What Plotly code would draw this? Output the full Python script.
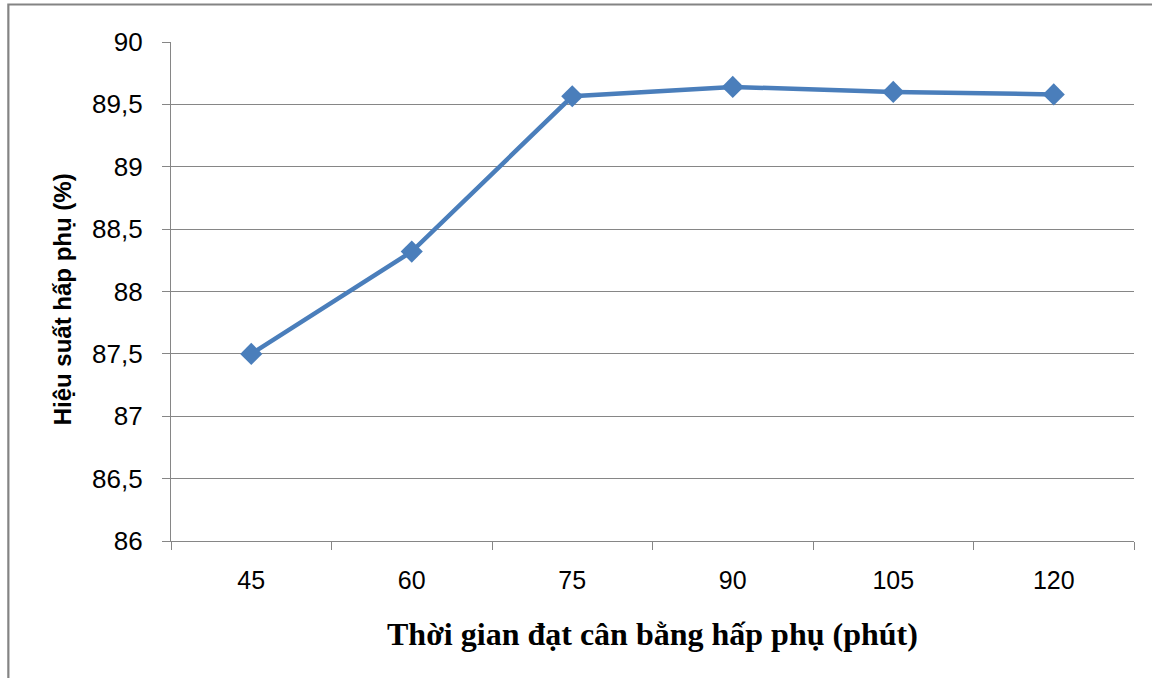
import plotly.graph_objects as go

# Thời gian (phút) và hiệu suất hấp phụ (%)
times = ["45", "60", "75", "90", "105", "120"]
efficiency = [87.5, 88.32, 89.565, 89.64, 89.6, 89.58]

y_ticks = [86, 86.5, 87, 87.5, 88, 88.5, 89, 89.5, 90]
y_tick_text = ["86", "86,5", "87", "87,5", "88", "88,5", "89", "89,5", "90"]

W, H = 1152, 678
L, R, T, B = 170.7, 18, 42, 137

fig = go.Figure()
fig.add_trace(go.Scatter(
    x=times, y=efficiency, mode="lines+markers",
    line=dict(color="#4A7EBB", width=4.5),
    marker=dict(symbol="diamond", size=17, color="#4A7EBB"),
    showlegend=False,
))

pw = W - L - R
ph = H - T - B

def px_x(px):
    return (px - L) / pw

def px_y(py):
    return (H - B - py) / ph

fig.update_layout(
    width=W, height=H,
    margin=dict(l=L, r=R, t=T, b=B, pad=0),
    paper_bgcolor="white", plot_bgcolor="white",
    font=dict(family="Liberation Sans, Arial", size=25, color="black"),
    xaxis=dict(
        type="category", tickson="boundaries", ticks="outside", ticklen=8,
        tickcolor="#868686", tickwidth=1.3, showline=True, linecolor="#868686",
        linewidth=1.3, showgrid=False, range=[-0.5, 5.5],
        tickfont=dict(size=25), ticklabelstandoff=17, fixedrange=True,
    ),
    yaxis=dict(
        range=[86, 90], tickvals=y_ticks, ticktext=y_tick_text,
        ticks="outside", ticklen=8, tickcolor="#868686", tickwidth=1.3,
        showline=True, linecolor="#868686", linewidth=1.3,
        showgrid=True, gridcolor="#868686", gridwidth=1.3,
        zeroline=False, tickfont=dict(size=26), ticklabelstandoff=14,
        fixedrange=True,
    ),
    shapes=[
        dict(type="rect", xref="paper", yref="paper",
             x0=px_x(8), x1=px_x(1170), y0=px_y(700), y1=px_y(4.5),
             line=dict(color="#848484", width=2.2), fillcolor="rgba(0,0,0,0)",
             layer="below"),
    ],
    annotations=[
        dict(text="<b>Hiệu suất hấp phụ (%)</b>", textangle=-90,
             xref="paper", yref="paper", x=px_x(62), y=px_y(299),
             xanchor="center", yanchor="middle", showarrow=False,
             font=dict(family="Liberation Sans, Arial", size=24, color="black")),
        dict(text="<b>Thời gian đạt cân bằng hấp phụ (phút)</b>",
             xref="paper", yref="paper", x=px_x(652), y=px_y(634),
             xanchor="center", yanchor="middle", showarrow=False,
             font=dict(family="Liberation Serif, Times New Roman", size=32, color="black")),
    ],
)

fig.write_html("out.html")
